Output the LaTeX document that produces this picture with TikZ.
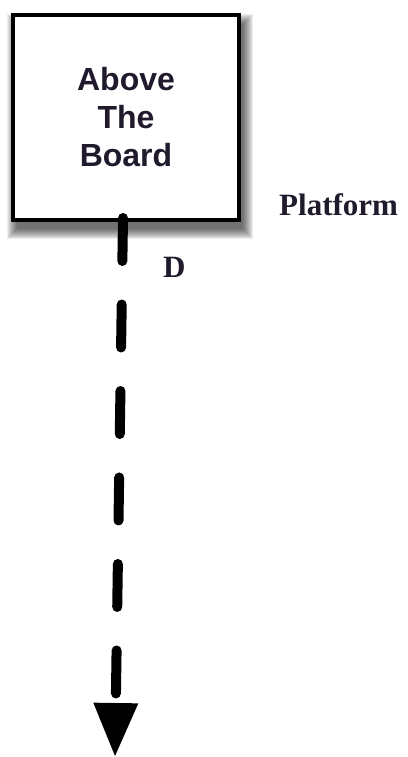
\documentclass[tikz,border=0pt]{standalone}
\usepackage{fontspec}
\setmainfont{Liberation Serif}
\newfontfamily\boxsans{Liberation Sans}
\usetikzlibrary{arrows.meta}
\definecolor{txt}{RGB}{32,26,44}
\tikzset{
  boxnode/.style={draw=black, line width=4pt, fill=white, minimum width=226pt, minimum height=205pt,
    inner sep=0pt, align=center, text=txt, font=\boxsans\fontsize{32}{38}\selectfont\bfseries},
  lbl/.style={text=txt, font=\fontsize{31}{36}\selectfont\bfseries, inner sep=0pt, anchor=base west},
  flowline/.style={line width=10pt, line cap=round, dash pattern=on 43pt off 43.5pt,
    -{Triangle[width=42pt,length=54pt]}}
}
\begin{document}
\begin{tikzpicture}[x=1pt,y=-1pt]
\useasboundingbox (0,0) rectangle (407,757);
% blurred drop shadow
\foreach \r in {10,9,...,0}{
  \fill[black,opacity=0.07] (17-\r,24-\r) rectangle (243+\r,229+\r);
}
\node[boxnode] (box) at (126,117.5) {Above\\The\\Board};
\node[lbl] (platform) at (279,215) {Platform};
\node[lbl] (d) at (163,277) {D};
\coordinate (s) at (123,218);
\coordinate (e) at (115,757);
\draw[flowline] (s) -- (e);
\end{tikzpicture}
\end{document}
